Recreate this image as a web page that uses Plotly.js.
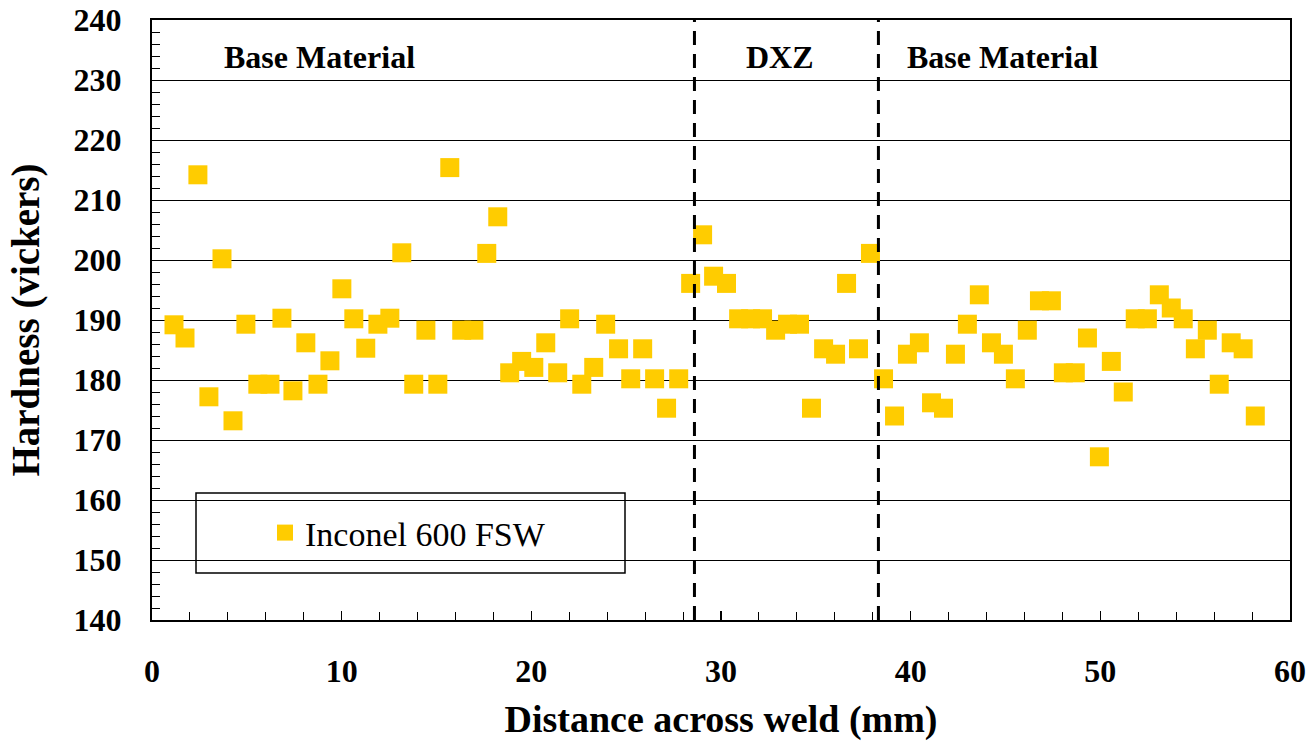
<!DOCTYPE html>
<html>
<head>
<meta charset="utf-8">
<script src="https://cdn.plot.ly/plotly-3.0.1.min.js"></script>
<style>html,body{margin:0;padding:0;background:#fff;}#chart{width:1310px;height:746px;}</style>
</head>
<body>
<div id="chart"></div>
<script>
// Distance across weld (mm)
const distance = [
  1.16,1.74,2.42,3.00,3.69,4.27,4.95,5.58,6.22,6.85,
  7.43,8.11,8.75,9.38,10.01,10.64,11.27,11.91,12.54,13.17,
  13.80,14.44,15.07,15.70,16.33,16.97,17.65,18.23,18.86,19.49,
  20.13,20.76,21.39,22.02,22.66,23.29,23.92,24.60,25.24,25.87,
  26.50,27.13,27.77,28.40,29.03,29.61,30.29,30.93,31.56,32.19,
  32.88,33.51,34.14,34.77,35.41,36.04,36.62,37.25,37.88,38.57,
  39.15,39.83,40.46,41.10,41.73,42.36,42.99,43.62,44.26,44.89,
  45.52,46.15,46.79,47.42,48.05,48.68,49.32,49.95,50.58,51.21,
  51.84,52.48,53.11,53.74,54.37,55.01,55.64,56.27,56.90,57.53,
  58.17
];
// Hardness (vickers)
const hardness = [
  189.2,187,214.2,177.2,200.2,173.2,189.3,179.3,179.3,190.3,
  178.2,186.2,179.3,183.2,195.2,190.2,185.3,189.3,190.3,201.2,
  179.3,188.3,179.3,215.4,188.3,188.3,201.1,207.2,181.2,183.1,
  182.1,186.2,181.2,190.2,179.3,182.1,189.3,185.2,180.2,185.2,
  180.2,175.3,180.2,196.1,204.2,197.3,196.1,190.2,190.2,190.2,
  188.3,189.3,189.3,175.3,185.2,184.3,196.1,185.2,201.1,180.2,
  174,184.3,186.2,176.2,175.3,184.3,189.3,194.2,186.2,184.3,
  180.2,188.3,193.2,193.2,181.2,181.2,187,167.2,183.1,178,
  190.2,190.2,194.2,192,190.2,185.2,188.3,179.3,186.2,185.2,
  174
];
const seriesName = "Inconel 600 FSW";
// zone boundaries (mm)
const boundaries = [28.6, 38.3];
// zone labels
const zoneLabels = ["Base Material", "DXZ", "Base Material"];
const zoneLabelX = [8.85, 33.1, 44.85];
const zoneLabelY = 233.8;

const serif = "Liberation Serif, Times New Roman, Times, serif";

const trace = {
  x: distance, y: hardness, type: 'scatter', mode: 'markers', name: seriesName,
  marker: {symbol: 'square', size: 19, color: '#FFCC00', line: {width: 0}},
  showlegend: true
};

const shapes = boundaries.map(b => ({
  type: 'line', xref: 'x', yref: 'paper', x0: b, x1: b, y0: 0, y1: 1,
  line: {color: '#000', width: 3, dash: '14px,9px'}, layer: 'above'
}));
// legend box
shapes.push({
  type: 'rect', xref: 'paper', yref: 'paper',
  x0: (196-152)/1138, x1: (625-152)/1138, y0: (620-573)/600, y1: (620-493)/600,
  fillcolor: '#fff', line: {color: '#000', width: 1.5}, layer: 'below'
});

const annotations = zoneLabels.map((t, i) => ({
  text: t, x: zoneLabelX[i], y: zoneLabelY, xref: 'x', yref: 'y',
  showarrow: false, xanchor: 'center', yanchor: 'middle',
  font: {family: serif, size: 32, color: '#000', weight: 700}
}));

const layout = {
  width: 1310, height: 746,
  margin: {l: 152, r: 20, t: 20, b: 126, pad: 0},
  paper_bgcolor: '#fff', plot_bgcolor: '#fff',
  font: {family: serif, color: '#000'},
  showlegend: true,
  legend: {
    x: (265-152)/1138, y: (620-533)/600, xanchor: 'left', yanchor: 'middle',
    bgcolor: 'rgba(0,0,0,0)', borderwidth: 0,
    font: {family: serif, size: 34, color: '#000'}
  },
  xaxis: {
    range: [0, 60], tick0: 0, dtick: 10, showgrid: false, zeroline: false,
    showline: true, mirror: true, linecolor: '#000', linewidth: 2,
    ticks: 'inside', ticklen: 9, tickwidth: 1.5, tickcolor: '#000',
    minor: {dtick: 2, ticks: 'inside', ticklen: 8, tickwidth: 1, tickcolor: '#000', showgrid: false},
    tickfont: {family: serif, size: 32, color: '#000', weight: 700},
    ticklabelstandoff: 22,
    title: {text: 'Distance across weld (mm)', font: {family: serif, size: 38, color: '#000', weight: 700}, standoff: 17}
  },
  yaxis: {
    range: [140, 240], tick0: 140, dtick: 10, showgrid: true, gridcolor: '#000', gridwidth: 1,
    zeroline: false, showline: true, mirror: true, linecolor: '#000', linewidth: 2,
    ticks: 'inside', ticklen: 8, tickwidth: 1, tickcolor: '#000',
    minor: {dtick: 2, ticks: 'inside', ticklen: 8, tickwidth: 1, tickcolor: '#000', showgrid: false},
    tickfont: {family: serif, size: 32, color: '#000', weight: 700},
    ticklabelstandoff: 22,
    title: {text: 'Hardness (vickers)', font: {family: serif, size: 39, color: '#000', weight: 700}, standoff: 22}
  },
  shapes: shapes,
  annotations: annotations
};

Plotly.newPlot('chart', [trace], layout, {displayModeBar: false, staticPlot: true});
</script>
</body>
</html>
